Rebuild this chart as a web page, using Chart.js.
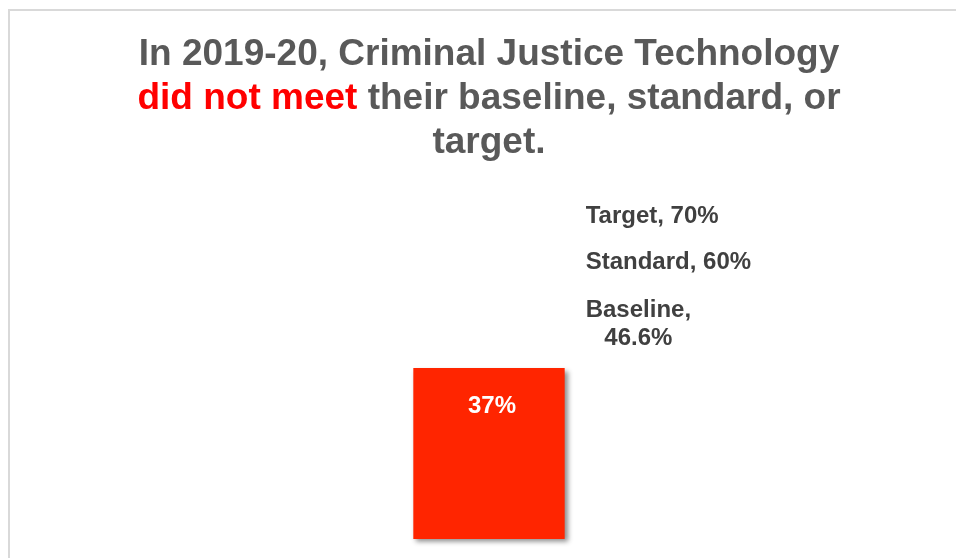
<!DOCTYPE html>
<html>
<head>
<meta charset="utf-8">
<script src="https://cdn.jsdelivr.net/npm/chart.js@4.4.1/dist/chart.umd.min.js"></script>
<style>
  html, body { margin: 0; padding: 0; background: #fff; overflow: hidden; }
  .frame {
    position: absolute; left: 8px; top: 9px; width: 980px; height: 570px;
    border-left: 2px solid #d9d9d9; border-top: 2px solid #d9d9d9;
  }
  .box { position: absolute; left: 10px; top: 11px; width: 958px; height: 550px; }
</style>
</head>
<body>
<div class="frame"></div>
<div class="box"><canvas id="chart"></canvas></div>
<script>
const categories = ["Criminal Justice Technology"];
const successRate = [37];
const refNames = ["Target", "Standard", "Baseline"];
const refValues = [70, 60, 46.6];

// title segments, one array per line
const titleLines = [
  [["In 2019-20, Criminal Justice Technology", "#595959"]],
  [["did not meet", "#ff0000"], [" their baseline, standard, or", "#595959"]],
  [["target.", "#595959"]]
];

const FONT = '"Liberation Sans", Arial, sans-serif';

const refSets = refNames.map((name, i) => ({
  type: "line",
  label: name,
  data: [refValues[i]],
  borderColor: "rgba(0,0,0,0)",
  pointRadius: 0
}));

const titlePlugin = {
  id: "richTitle",
  afterDraw(chart) {
    const ctx = chart.ctx;
    const cx = (chart.chartArea.left + chart.chartArea.right) / 2;
    ctx.save();
    ctx.font = "bold 37px " + FONT;
    ctx.textBaseline = "alphabetic";
    ctx.textAlign = "left";
    titleLines.forEach((segs, li) => {
      const total = segs.reduce((a, s) => a + ctx.measureText(s[0]).width, 0);
      let x = cx - total / 2;
      segs.forEach(s => {
        ctx.fillStyle = s[1];
        ctx.fillText(s[0], x, 54 + li * 44);
        x += ctx.measureText(s[0]).width;
      });
    });
    ctx.restore();
  }
};

const shadowPlugin = {
  id: "barShadow",
  beforeDatasetDraw(chart, args) {
    if (args.index !== 0) return;
    const ctx = chart.ctx;
    ctx.save();
    ctx.shadowColor = "rgba(0,0,0,0.45)";
    ctx.shadowBlur = 5;
    ctx.shadowOffsetX = 3;
    ctx.shadowOffsetY = 3;
  },
  afterDatasetDraw(chart, args) {
    if (args.index !== 0) return;
    chart.ctx.restore();
  }
};

const labelPlugin = {
  id: "labels",
  afterDatasetsDraw(chart) {
    const ctx = chart.ctx;
    const y = chart.scales.y;
    const bar = chart.getDatasetMeta(0).data[0];
    ctx.save();
    // value label inside the bar
    ctx.font = "bold 24px " + FONT;
    ctx.fillStyle = "#ffffff";
    ctx.textAlign = "center";
    ctx.textBaseline = "alphabetic";
    ctx.fillText(successRate[0] + "%", bar.x + 3, bar.y + 45);
    // reference labels to the right of the bar
    ctx.fillStyle = "#404040";
    ctx.textBaseline = "middle";
    const x0 = bar.x + bar.width / 2 + 21;
    refNames.forEach((name, i) => {
      const py = y.getPixelForValue(refValues[i]) + 1;
      const full = name + ", " + refValues[i] + "%";
      if (ctx.measureText(full).width > 170) {
        const l1 = name + ",", l2 = refValues[i] + "%";
        const w = ctx.measureText(l1).width;
        ctx.textAlign = "center";
        ctx.fillText(l1, x0 + w / 2, py - 14);
        ctx.fillText(l2, x0 + w / 2, py + 14);
      } else {
        ctx.textAlign = "left";
        ctx.fillText(full, x0, py);
      }
    });
    ctx.restore();
  }
};

new Chart(document.getElementById("chart"), {
  type: "bar",
  data: {
    labels: categories,
    datasets: [
      {
        label: "2019-20",
        data: successRate,
        backgroundColor: "#ff2500",
        barPercentage: 0.158,
        categoryPercentage: 1,
        clip: false
      },
      ...refSets
    ]
  },
  options: {
    responsive: true,
    maintainAspectRatio: false,
    animation: false,
    layout: { padding: { top: 158, bottom: 22, left: 0, right: 0 } },
    plugins: {
      legend: { display: false },
      title: { display: false },
      tooltip: { enabled: false }
    },
    scales: {
      x: { display: false },
      y: { display: false, min: 0, max: 80 }
    }
  },
  plugins: [shadowPlugin, labelPlugin, titlePlugin]
});
</script>
</body>
</html>
